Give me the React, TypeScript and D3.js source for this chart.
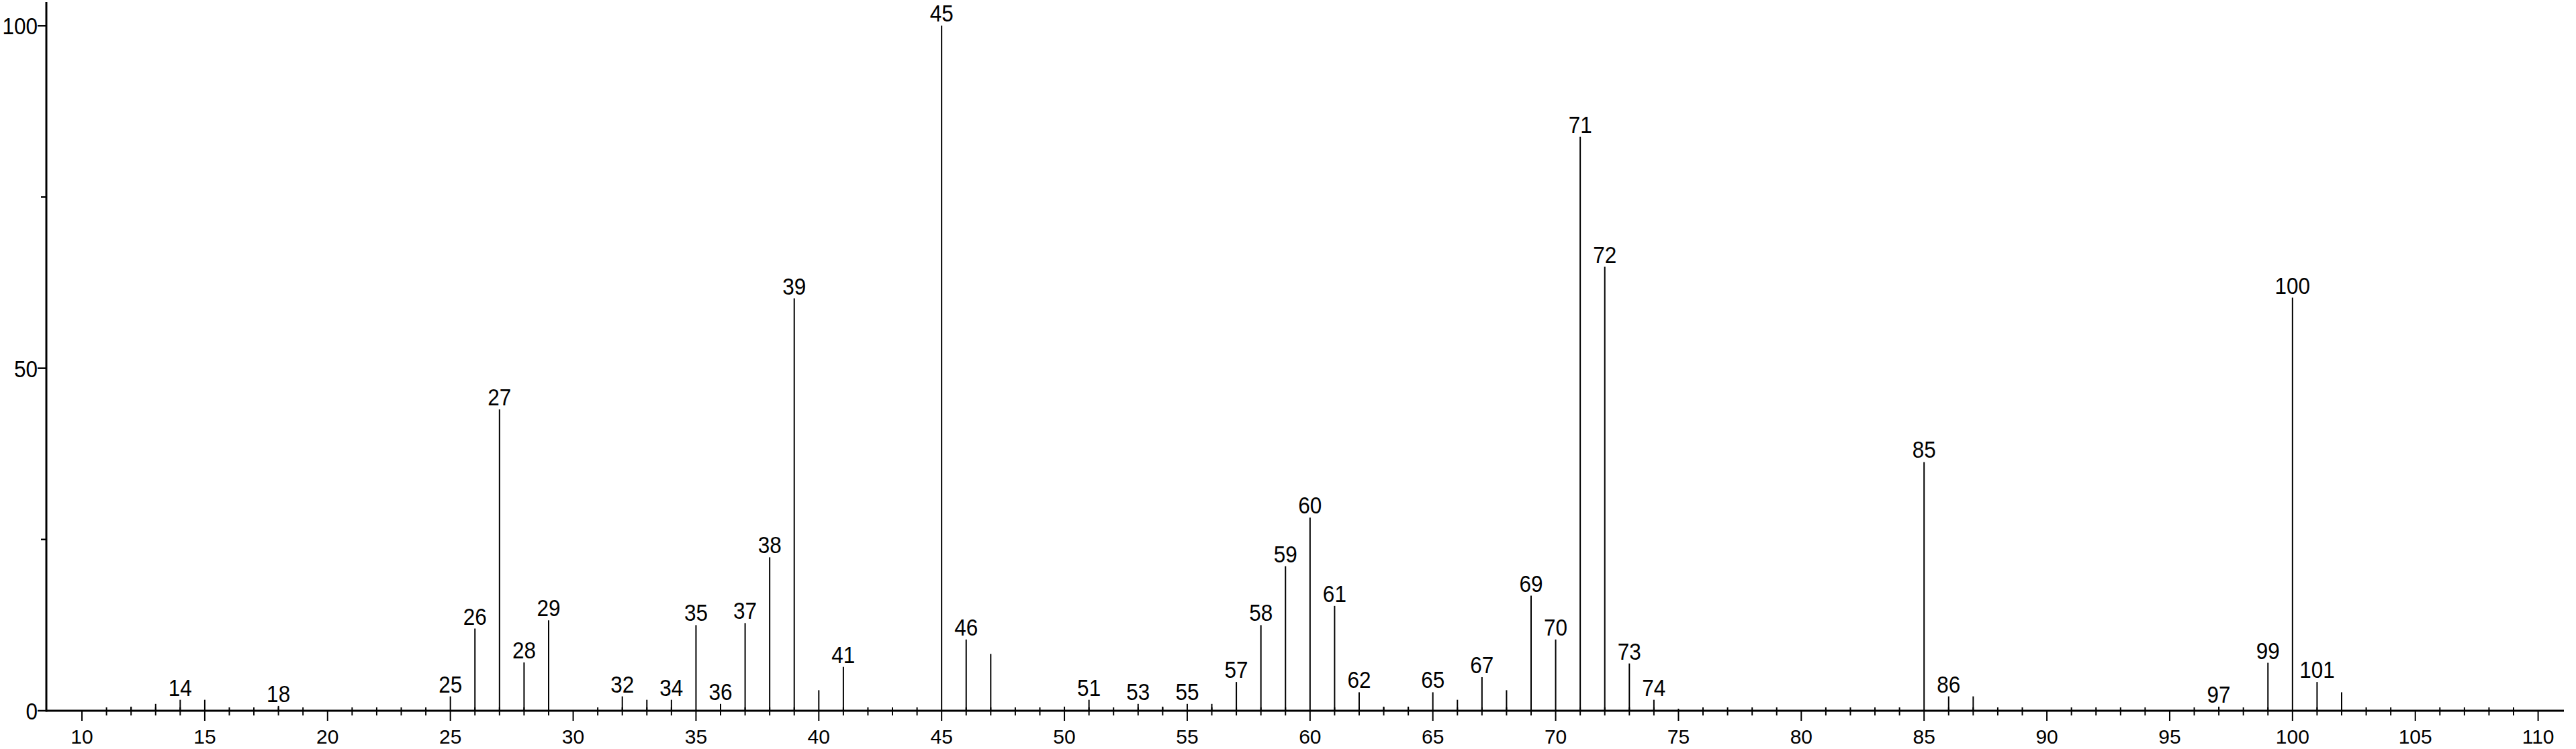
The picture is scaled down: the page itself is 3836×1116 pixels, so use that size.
import React from "react";
import * as d3 from "d3";

// m/z values and relative intensities (%)
const MZ = [12, 13, 14, 15, 18, 24, 25, 26, 27, 28, 29, 32, 33, 34, 35, 36, 37, 38, 39, 40, 41, 45, 46, 47, 50, 51, 53, 54, 55, 56, 57, 58, 59, 60, 61, 62, 63, 64, 65, 66, 67, 68, 69, 70, 71, 72, 73, 74, 75, 85, 86, 87, 97, 99, 100, 101, 102];
const INTENSITY = [0.6, 1.0, 1.6, 1.6, 0.7, 0.3, 2.1, 12.0, 44.0, 7.05, 13.2, 2.1, 1.6, 1.6, 12.5, 1.0, 12.8, 22.4, 60.2, 3.0, 6.4, 100, 10.4, 8.3, 0.6, 1.6, 1.0, 0.6, 1.0, 1.0, 4.2, 12.5, 21.1, 28.2, 15.3, 2.7, 0.6, 0.6, 2.7, 1.6, 4.9, 3.0, 16.8, 10.4, 83.8, 64.8, 6.9, 1.6, 0.3, 36.3, 2.1, 2.1, 0.6, 7.0, 60.3, 4.2, 2.7];
const LABELED = [14, 18, 25, 26, 27, 28, 29, 32, 34, 35, 36, 37, 38, 39, 41, 45, 46, 51, 53, 55, 57, 58, 59, 60, 61, 62, 65, 67, 69, 70, 71, 72, 73, 74, 85, 86, 97, 99, 100, 101];
const X_MAJOR = [10, 15, 20, 25, 30, 35, 40, 45, 50, 55, 60, 65, 70, 75, 80, 85, 90, 95, 100, 105, 110];
const X_MINOR = d3.range(11, 111).filter((v) => v % 5 !== 0);
const Y_MAJOR = [0, 50, 100];
const Y_MINOR = [25, 75];

const W = 3836;
const H = 1116;
const FONT = "'Liberation Sans', Arial, Helvetica, sans-serif";

export default function App() {
  const x = d3.scaleLinear().domain([8.55, 111.05]).range([69, 3818]);
  const y = d3.scaleLinear().domain([0, 100]).range([1059, 38.3]);
  const x0 = x.range()[0];
  const y0 = y(0);

  return (
    <svg
      width={W}
      height={H}
      viewBox={`0 0 ${W} ${H}`}
      style={{ position: "absolute", left: 0, top: 0, display: "block", background: "#fff" }}
    >
      <rect x={0} y={0} width={W} height={H} fill="#fff" />
      {/* peaks */}
      {MZ.map((m, i) => (
        <line key={"p" + m} x1={x(m)} x2={x(m)} y1={y0} y2={y(INTENSITY[i])} stroke="#000" strokeWidth={2} />
      ))}
      {/* peak labels */}
      {MZ.map((m, i) =>
        LABELED.includes(m) ? (
          <text
            key={"l" + m}
            transform={`translate(${x(m)},${y(INTENSITY[i]) - 6}) scale(0.9,1)`}
            textAnchor="middle"
            fontFamily={FONT}
            fontSize={35}
            fill="#000"
          >
            {m}
          </text>
        ) : null
      )}
      {/* x axis */}
      <line x1={x0} x2={x.range()[1]} y1={y0} y2={y0} stroke="#000" strokeWidth={3} />
      {X_MAJOR.map((v) => (
        <g key={"xm" + v}>
          <line x1={x(v)} x2={x(v)} y1={y0} y2={y0 + 15} stroke="#000" strokeWidth={2} />
          <text x={x(v)} y={1108} textAnchor="middle" fontFamily={FONT} fontSize={30} fill="#000">
            {v}
          </text>
        </g>
      ))}
      {X_MINOR.map((v) => (
        <line key={"xn" + v} x1={x(v)} x2={x(v)} y1={y0 - 5} y2={y0 + 7} stroke="#000" strokeWidth={2} />
      ))}
      {/* y axis */}
      <line x1={x0} x2={x0} y1={3} y2={y0 + 1.5} stroke="#000" strokeWidth={3} />
      {Y_MAJOR.map((v) => (
        <g key={"ym" + v}>
          <line x1={x0 - 13} x2={x0} y1={y(v)} y2={y(v)} stroke="#000" strokeWidth={2.5} />
          <text
            transform={`translate(${x0 - 13},${y(v) + 13}) scale(0.9,1)`}
            textAnchor="end"
            fontFamily={FONT}
            fontSize={35}
            fill="#000"
          >
            {v}
          </text>
        </g>
      ))}
      {Y_MINOR.map((v) => (
        <line key={"yn" + v} x1={x0 - 8} x2={x0} y1={y(v)} y2={y(v)} stroke="#000" strokeWidth={2.5} />
      ))}
    </svg>
  );
}
